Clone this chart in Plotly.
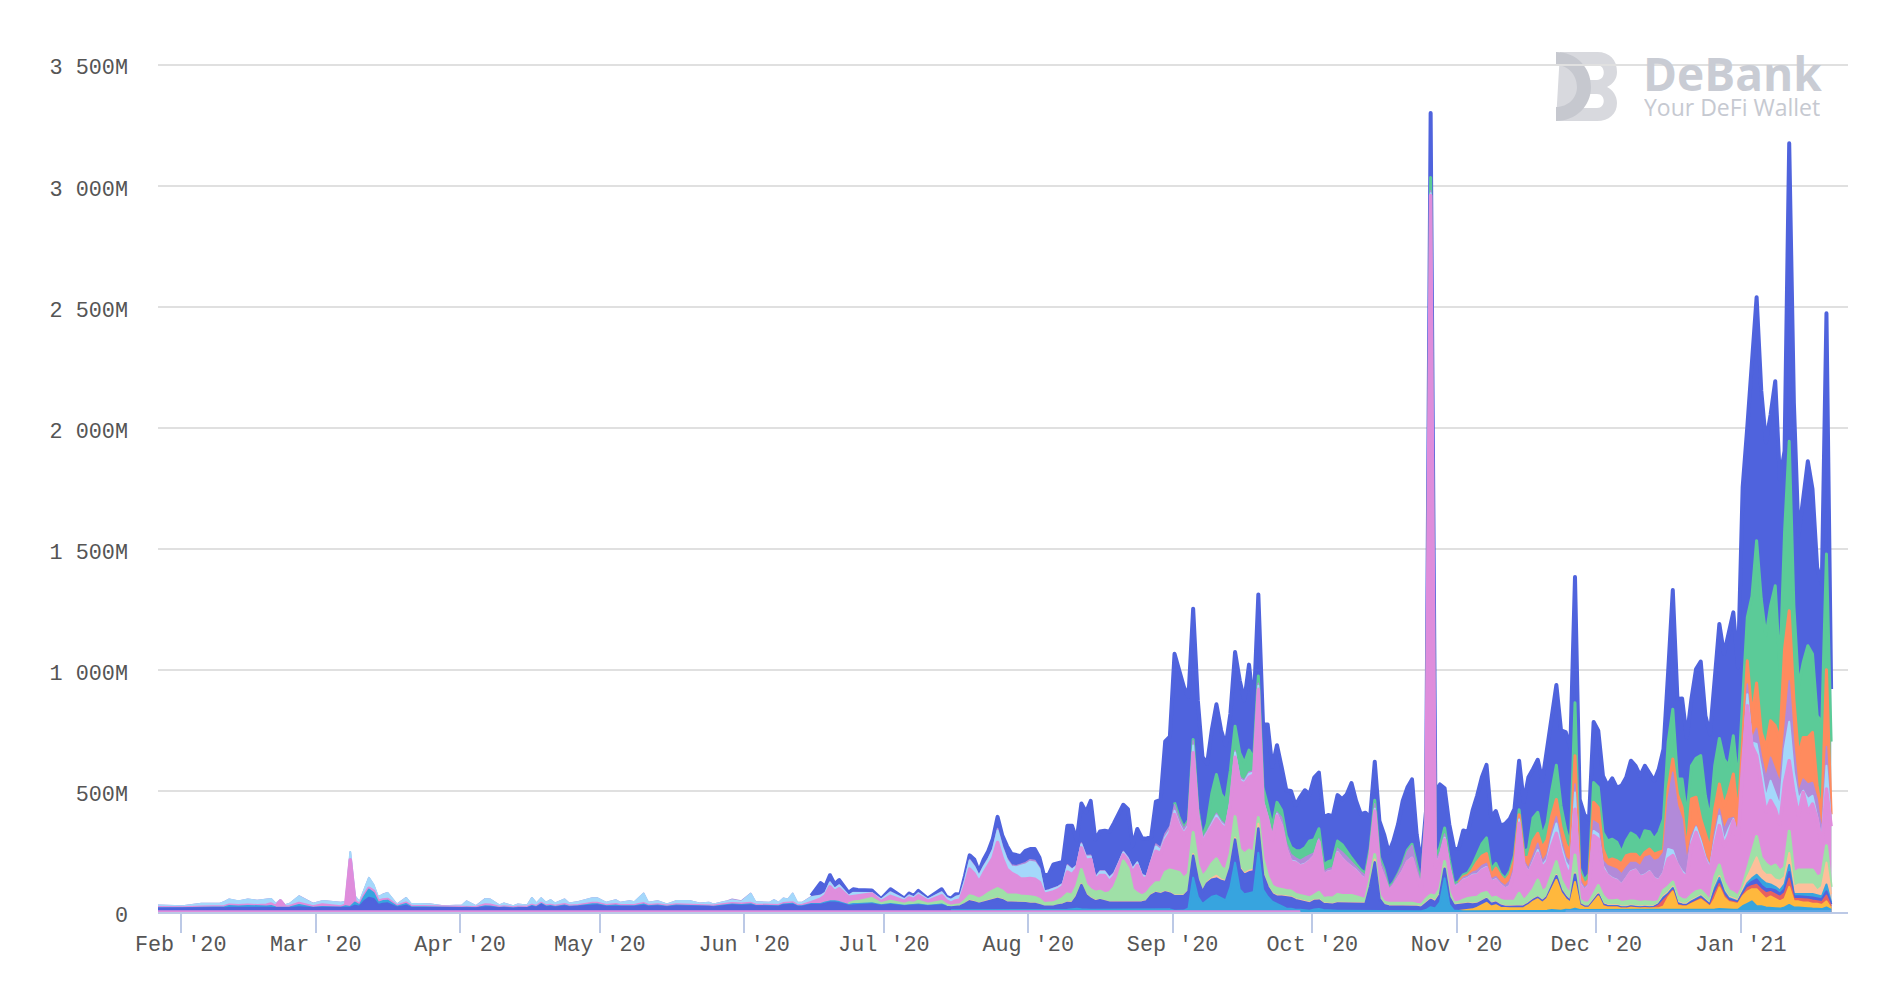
# Stacked daily area chart with the DeBank watermark.
import pandas as pd
import plotly.graph_objects as go

# sparse dates up to mid July, where almost nothing happens, then every day
early_dates = [
    "2020-01-26", "2020-02-01", "2020-02-05", "2020-02-09", "2020-02-10", "2020-02-11", "2020-02-13",
    "2020-02-15", "2020-02-17", "2020-02-19", "2020-02-20", "2020-02-21", "2020-02-22", "2020-02-23",
    "2020-02-24", "2020-02-26", "2020-02-28", "2020-02-29",
    "2020-03-02", "2020-03-04", "2020-03-06", "2020-03-07", "2020-03-08", "2020-03-09", "2020-03-10",
    "2020-03-11", "2020-03-12", "2020-03-13", "2020-03-14", "2020-03-15", "2020-03-16", "2020-03-18",
    "2020-03-20", "2020-03-21", "2020-03-25", "2020-03-28",
    "2020-04-01", "2020-04-02", "2020-04-04", "2020-04-06", "2020-04-07", "2020-04-09", "2020-04-10",
    "2020-04-12", "2020-04-13", "2020-04-15", "2020-04-16", "2020-04-17", "2020-04-18", "2020-04-19",
    "2020-04-20", "2020-04-21", "2020-04-23", "2020-04-24", "2020-04-26", "2020-04-29", "2020-04-30",
    "2020-05-02", "2020-05-04", "2020-05-05", "2020-05-07", "2020-05-08", "2020-05-10", "2020-05-11",
    "2020-05-13", "2020-05-15", "2020-05-17", "2020-05-20", "2020-05-22", "2020-05-24", "2020-05-25",
    "2020-05-28", "2020-05-29", "2020-05-31",
    "2020-06-02", "2020-06-03", "2020-06-06", "2020-06-07", "2020-06-08", "2020-06-09", "2020-06-10",
    "2020-06-11", "2020-06-12", "2020-06-13", "2020-06-15", "2020-06-17", "2020-06-18", "2020-06-19",
    "2020-06-20", "2020-06-21", "2020-06-23", "2020-06-24", "2020-06-25", "2020-06-28", "2020-06-30",
    "2020-07-02", "2020-07-05", "2020-07-06", "2020-07-07", "2020-07-08", "2020-07-10", "2020-07-13",
    "2020-07-14",
]
daily_dates = [d.strftime("%Y-%m-%d") for d in pd.date_range("2020-07-15", "2021-01-20")]
dates = [d + "T10:00" for d in early_dates + daily_dates]

# layers, bottom of the stack first; None where a layer has no data
floor_pink = [3] * 179 + [None] * 114
floor_blue = [None] * 235 + [4] * 58
cyan = [None] * 103 + [
    4, 4, 4, 5, 6, 6, 5, 5, 6, 6, 6, 6, 6, 5, 5, 5, 5,
    5, 5, 5, 4, 4, 4, 4, 5, 6, 8, 10, 8, 6, 6, 6, 6, 6, 5, 5, 5, 5, 5, 6, 6, 6, 6, 5, 5, 5, 8, 8,
    2, 2, 3, 12, 139, 60, 30, 45, 60, 65, 55, 45, 100, 201, 90, 70, 75, 80, 242, 90, 60, 40, 30, 20, 12, 10, 6, 6, 6, 5,
    10, 12, 8, 6, 5, 5, 5, 5, 5, 5, 3, 3, 5, 5, 4, 3, 3, 3, 3, 3, 3, 3, 3, 3, 8, 20, 15, 40, 139, 30, 6,
    3, 3, 3, 3, 3, 3, 3, 3, 3, 3, 3, 3, 3, 3, 3, 3, 3, 3, 3, 5, 8, 8, 5, 5, 4, 10, 4, 4, 4, 5,
    5, 5, 5, 5, 5, 4, 4, 4, 4, 4, 4, 4, 4, 4, 4, 5, 5, 5, 5, 5, 5, 5, 5, 5, 4, 6, 8, 6, 5, 5, 5,
    20, 30, 40, 20, 20, 15, 15, 12, 10, 15, 25, 15, 15, 12, 12, 10, 10, 8, 15, 5,
]
yellow = [None] * 212 + [
    1, 3, 5, 8, 15, 25, 35, 20, 25, 15, 12, 12, 12, 12, 14, 25, 40, 50, 35, 50, 85, 125, 75, 45, 30, 110, 20, 10, 10, 30,
    55, 15, 10, 10, 10, 6, 6, 10, 8, 6, 8, 6, 8, 8, 15, 50, 75, 18, 14, 14, 24, 32, 42, 28, 14, 45, 90, 50, 32, 28, 24,
    40, 50, 50, 70, 50, 35, 45, 38, 30, 35, 75, 25, 25, 23, 23, 20, 20, 17, 25, 5,
]
red = [None] * 242 + [
    4, 3, 2, 2, 2, 2, 2, 2, 2, 2, 2, 2, 2, 12, 25, 8, 6, 4, 3, 2, 4, 5, 5, 4, 3, 20, 15, 10, 6, 5, 4,
    6, 15, 15, 20, 20, 25, 20, 20, 20, 25, 35, 12, 12, 14, 14, 15, 13, 13, 25, 10,
]
indigo = [
    10, 10, 12, 12, 12, 14, 13, 15, 14, 14, 15, 13, 13, 12, 13, 16, 14, 12,
    14, 14, 12, 13, 14, 22, 18, 40, 55, 50, 25, 30, 32, 15, 22, 14, 13, 12,
    12, 12, 11, 16, 16, 12, 13, 10, 12, 12, 18, 14, 26, 16, 18, 15, 20, 16, 18, 24, 24,
    18, 20, 18, 18, 18, 22, 18, 20, 16, 20, 20, 18, 18, 16, 22, 24, 22,
    24, 20, 18, 20, 18, 24, 24, 26, 18, 18, 26, 26, 30, 35, 35, 32, 22, 25, 25, 28, 22,
    26, 20, 22, 22, 24, 20, 24, 18,
    12, 14, 16, 25, 35, 30, 25, 30, 35, 40, 45, 40, 30, 30, 30, 28, 28,
    25, 25, 20, 15, 15, 15, 20, 22, 28, 25, 50, 100, 60, 45, 35, 40, 35, 30, 30, 30, 30, 30, 30, 30, 30, 35, 60, 70, 65, 70, 65,
    60, 60, 60, 70, 90, 70, 50, 70, 70, 70, 70, 75, 80, 95, 85, 80, 85, 85, 100, 60, 40, 30, 30, 40, 45, 45, 40, 35, 35, 30,
    35, 35, 25, 25, 25, 30, 30, 30, 30, 30, 30, 30, 100, 200, 50, 25, 20, 20, 20, 20, 20, 20, 18, 15, 25, 30, 25, 30, 40, 30, 20,
    25, 25, 25, 20, 15, 15, 15, 10, 10, 8, 6, 6, 6, 6, 6, 6, 6, 6, 6, 6, 10, 15, 10, 8, 6, 30, 5, 4, 4, 8,
    3, 3, 2, 2, 2, 2, 2, 2, 2, 2, 2, 2, 2, 3, 8, 5, 5, 3, 3, 3, 4, 5, 5, 4, 3, 12, 12, 8, 6, 5, 4,
    6, 10, 15, 20, 15, 15, 10, 15, 10, 15, 25, 8, 8, 8, 8, 10, 10, 10, 15, 8,
]
# the same colour band shows up twice, before mid July and from December on
sky_early = [
    3, 2, 3, 3, 5, 8, 7, 7, 6, 6, 7, 3, 2, 2, 3, 10, 6, 3,
    4, 4, 3, 8, 4, 14, 6, 20, 35, 25, 10, 12, 12, 4, 8, 4, 3, 2,
    2, 3, 2, 5, 4, 2, 3, 2, 3, 2, 4, 3, 4, 4, 4, 3, 4, 3, 3, 5, 5,
    3, 4, 3, 3, 3, 6, 3, 4, 3, 4, 3, 3, 3, 3, 4, 4, 4,
    5, 3, 3, 3, 3, 4, 4, 5, 3, 3, 4, 4, 6, 6, 6, 6, 4, 5, 5, 5, 3,
    4, 3, 3, 3, 4, 3, 4, 3,
] + [None] * 190
sky_late = [None] * 242 + [
    3, 2, 2, 2, 2, 2, 2, 2, 2, 2, 2, 2, 2, 2, 5, 4, 5, 3, 2, 2, 3, 4, 4, 3, 3, 10, 12, 8, 5, 4, 3,
    6, 10, 15, 20, 25, 25, 20, 15, 15, 20, 30, 10, 10, 13, 13, 15, 12, 12, 30, 7,
]
peach = [None] * 103 + [
    1, 1, 1, 2, 3, 3, 2, 3, 3, 3, 3, 3, 2, 2, 2, 2, 2,
    2, 2, 2, 1, 1, 1, 1, 2, 3, 3, 5, 4, 4, 3, 3, 2, 2, 2, 3, 3, 3, 3, 3, 3, 3, 3, 3, 3, 3, 3, 3,
    3, 3, 3, 3, 8, 4, 3, 4, 6, 12, 6, 4, 5, 8, 6, 6, 8, 8, 20, 6, 5, 4, 4, 4, 4, 4, 4, 4, 4, 4,
    4, 4, 3, 3, 3, 3, 3, 3, 3, 3, 3, 3, 5, 12, 3, 3, 3, 3, 3, 3, 3, 3, 3, 3, 5, 5, 5, 5, 5, 4, 3,
    3, 3, 3, 3, 3, 3, 3, 3, 3, 3, 3, 3, 3, 3, 3, 3, 3, 3, 3, 3, 4, 5, 4, 4, 3, 6, 3, 3, 3, 3,
    3, 3, 3, 3, 3, 3, 3, 3, 3, 3, 3, 3, 3, 3, 5, 5, 5, 5, 4, 4, 4, 4, 4, 4, 3, 7, 8, 6, 5, 5, 5,
    8, 25, 45, 72, 40, 35, 40, 30, 40, 30, 50, 30, 40, 40, 40, 40, 20, 40, 90, 35,
]
light_green = [None] * 90 + [
    4, 8, 10, 20, 6, 12, 6, 10, 8, 14, 6, 12, 6,
    4, 6, 6, 12, 20, 20, 18, 22, 30, 35, 40, 35, 30, 30, 30, 28, 28,
    28, 25, 22, 12, 12, 15, 18, 25, 35, 30, 40, 60, 40, 35, 35, 35, 30, 40, 60, 105, 170, 140, 50, 35, 25, 30, 30, 40, 45, 80, 95,
    100, 95, 70, 70, 88, 60, 60, 45, 60, 70, 50, 45, 55, 87, 75, 80, 85, 70, 25, 60, 40, 30, 30, 25, 25, 25, 20, 20, 20, 20,
    20, 30, 20, 25, 25, 35, 30, 30, 30, 25, 20, 15, 25, 20, 12, 10, 10, 10, 10, 10, 10, 10, 8, 8, 15, 15, 20, 20, 25, 15, 8,
    8, 15, 20, 25, 25, 30, 25, 20, 20, 20, 20, 20, 20, 53, 20, 30, 40, 70, 35, 35, 45, 55, 40, 30, 25, 75, 15, 12, 12, 25,
    32, 32, 18, 18, 21, 16, 19, 19, 19, 16, 17, 16, 14, 8, 23, 23, 19, 22, 17, 15, 21, 25, 20, 17, 10, 40, 45, 32, 26, 23, 15,
    14, 30, 60, 86, 50, 45, 30, 60, 40, 40, 90, 55, 60, 60, 60, 60, 55, 50, 70, 30,
]
pink = [
    2, 2, 2, 2, 2, 3, 3, 3, 3, 5, 8, 4, 28, 4, 3, 6, 4, 3,
    8, 3, 3, 4, 195, 4, 3, 4, 5, 8, 6, 5, 5, 2, 3, 2, 2, 2,
    2, 2, 2, 5, 5, 2, 2, 2, 2, 2, 2, 2, 2, 2, 2, 2, 3, 2, 2, 3, 3,
    2, 3, 2, 2, 2, 3, 2, 2, 2, 2, 2, 2, 2, 2, 3, 3, 3,
    3, 2, 2, 2, 2, 3, 3, 3, 2, 2, 6, 20, 28, 60, 40, 55, 28, 22, 22, 18, 8,
    20, 12, 20, 16, 22, 12, 24, 16,
    12, 18, 20, 60, 110, 95, 70, 95, 110, 135, 190, 135, 105, 90, 80, 70, 70,
    75, 75, 70, 38, 42, 45, 45, 48, 90, 85, 70, 90, 100, 125, 50, 65, 75, 45, 45, 45, 25, 30, 70, 115, 75, 60, 100, 130, 120, 130, 150,
    235, 190, 180, 190, 330, 200, 140, 150, 150, 165, 175, 170, 200, 245, 280, 290, 300, 320, 530, 230, 235, 190, 300, 260, 170, 120, 130, 120, 130, 150,
    160, 210, 95, 105, 110, 170, 150, 130, 115, 105, 90, 80, 100, 180, 120, 100, 50, 70, 100, 130, 170, 185, 120, 70, 330, 2890, 120, 130, 90, 100, 60,
    70, 80, 80, 90, 90, 95, 100, 65, 70, 60, 50, 60, 120, 290, 150, 90, 110, 110, 100, 105, 120, 117, 110, 85, 75, 190, 60, 50, 70, 240,
    192, 110, 104, 90, 80, 70, 94, 118, 127, 104, 108, 125, 97, 85, 68, 115, 109, 127, 105, 94, 205, 245, 185, 143, 127, 130, 163, 150, 226, 298, 224,
    500, 678, 443, 334, 311, 213, 276, 231, 194, 351, 291, 335, 224, 320, 238, 272, 240, 120, 234, 250,
]
light_blue = [
    9, 7, 14, 14, 20, 24, 18, 24, 21, 22, 21, 11, 3, 7, 12, 30, 17, 13,
    16, 18, 17, 14, 32, 21, 11, 25, 43, 26, 17, 22, 27, 7, 22, 11, 11, 5,
    8, 24, 6, 25, 24, 8, 14, 7, 11, 8, 31, 13, 22, 13, 22, 12, 22, 11, 15, 22, 22,
    12, 19, 12, 19, 14, 42, 12, 16, 7, 16, 17, 9, 12, 7, 12, 15, 10,
    40, 13, 12, 21, 12, 22, 18, 39, 12, 12, 22, 14, 12, 18, 12, 14, 6, 16, 14, 4, 8,
    16, 8, 10, 8, 10, 7, 14, 12,
    14, 16, 18, 25, 35, 30, 25, 28, 30, 35, 50, 45, 40, 28, 35, 55, 60,
    70, 70, 55, 12, 12, 12, 12, 10, 25, 20, 12, 15, 15, 12, 8, 15, 15, 15, 12, 10, 10, 10, 15, 12, 10, 8, 8, 20, 15, 15, 15,
    15, 12, 10, 12, 30, 15, 10, 10, 12, 15, 10, 10, 15, 20, 10, 8, 15, 10, 15, 8, 8, 8, 8, 8, 6, 6, 6, 5, 5, 5,
    5, 5, 4, 4, 4, 5, 5, 5, 5, 5, 5, 5, 5, 10, 8, 5, 3, 3, 3, 4, 4, 4, 4, 4, 5, 10, 8, 8, 8, 8, 5,
    4, 5, 5, 5, 5, 5, 5, 5, 5, 4, 4, 4, 5, 15, 5, 8, 12, 14, 10, 15, 30, 41, 30, 25, 30, 69, 10, 5, 5, 20,
    21, 14, 5, 5, 5, 5, 5, 5, 5, 5, 5, 5, 5, 5, 7, 41, 21, 8, 12, 6, 20, 21, 20, 14, 13, 27, 41, 21, 28, 7, 14,
    20, 48, 14, 48, 56, 60, 82, 69, 76, 138, 161, 83, 69, 7, 55, 34, 10, 15, 96, 10,
]
purple = [
    1, 1, 1, 1, 1, 1, 1, 1, 1, 1, 1, 1, 1, 1, 1, 1, 1, 1,
    1, 1, 1, 1, 1, 1, 1, 1, 1, 1, 1, 1, 1, 1, 1, 1, 1, 1,
    1, 1, 1, 1, 1, 1, 1, 1, 1, 1, 1, 1, 1, 1, 1, 1, 1, 1, 1, 1, 1,
    1, 1, 1, 1, 1, 1, 1, 1, 1, 1, 1, 1, 1, 1, 2, 4, 4,
    2, 1, 1, 1, 1, 1, 1, 1, 1, 1, 2, 2, 2, 2, 2, 2, 2, 2, 2, 2, 2,
    2, 2, 2, 2, 2, 2, 2, 2,
    1, 2, 1, 3, 5, 4, 3, 4, 4, 5, 8, 8, 6, 6, 6, 6, 8,
    8, 8, 6, 2, 2, 2, 3, 3, 5, 3, 3, 5, 5, 5, 4, 4, 4, 4, 4, 4, 4, 4, 4, 3, 3, 3, 3, 10, 10, 15, 15,
    25, 20, 15, 15, 20, 12, 8, 8, 8, 8, 8, 8, 8, 8, 8, 8, 8, 8, 10, 8, 8, 8, 8, 30, 20, 25, 15, 20, 25, 20,
    10, 8, 10, 10, 12, 15, 25, 25, 20, 15, 15, 15, 15, 20, 20, 25, 8, 10, 15, 25, 40, 50, 30, 10, 10, 10, 15, 15, 15, 15, 8,
    5, 8, 8, 10, 15, 15, 15, 10, 10, 10, 10, 20, 20, 5, 10, 15, 20, 28, 18, 20, 25, 28, 25, 20, 30, 35, 15, 8, 5, 42,
    41, 21, 36, 43, 43, 43, 43, 36, 29, 43, 71, 64, 71, 85, 82, 207, 323, 240, 215, 63, 21, 6, 10, 8, 8, 28, 27, 48, 41, 7, 20,
    20, 42, 13, 65, 55, 84, 97, 97, 96, 69, 169, 110, 27, 48, 62, 55, 73, 40, 80, 5,
]
orange = [None] * 212 + [
    2, 3, 3, 10, 35, 40, 40, 15, 35, 25, 20, 25, 25, 15, 15, 45, 60, 41, 55, 60, 70, 71, 50, 55, 40, 117, 25, 15, 15, 76,
    69, 48, 21, 35, 35, 41, 49, 34, 34, 28, 20, 27, 27, 27, 7, 41, 55, 48, 48, 34, 152, 118, 80, 88, 68, 96, 104, 96, 110, 179, 76,
    60, 96, 97, 187, 96, 124, 151, 179, 180, 344, 290, 193, 152, 172, 192, 207, 55, 69, 317, 35,
]
green = [None] * 151 + [
    10, 5, 5, 5, 5, 5, 5, 30, 120, 160, 110, 100, 120, 100, 100, 70, 90, 50, 30, 50, 40, 40, 40, 30, 30, 30, 30, 40, 40, 60,
    55, 40, 30, 30, 30, 30, 30, 25, 15, 10, 8, 8, 8, 15, 10, 5, 3, 3, 3, 5, 5, 5, 5, 3, 3, 55, 15, 20, 25, 15, 5,
    5, 8, 10, 20, 35, 50, 65, 25, 20, 10, 10, 15, 20, 20, 25, 35, 95, 87, 50, 70, 105, 141, 90, 60, 30, 218, 20, 15, 25, 82,
    83, 69, 82, 82, 76, 48, 61, 87, 76, 69, 90, 72, 62, 83, 131, 193, 206, 62, 117, 152, 137, 161, 262, 158, 124, 179, 188, 193, 110, 158, 137,
    180, 179, 493, 588, 551, 461, 475, 578, 289, 482, 700, 385, 289, 310, 379, 324, 289, 385, 478, 300,
]
blue = [None] * 84 + [
    4, 50, 24, 28, 17, 20, 10, 13, 10, 9, 1,
    11, 1, 6, 4, 8, 2, 11, 3,
    4, 9, 3, 14, 17, 26, 15, 26, 30, 41, 48, 42, 51, 46, 46, 34, 49,
    44, 47, 41, 62, 65, 100, 97, 89, 161, 179, 104, 163, 179, 225, 155, 163, 166, 188, 205, 196, 193, 200, 91, 136, 150, 155, 99, 175, 197, 381, 371,
    614, 602, 581, 509, 540, 446, 332, 248, 262, 290, 264, 229, 233, 307, 300, 260, 353, 213, 337, 263, 336, 246, 236, 179, 188, 232, 187, 222, 238, 192,
    256, 232, 195, 193, 182, 190, 188, 233, 310, 261, 230, 251, 127, 159, 149, 145, 145, 171, 205, 259, 259, 268, 130, 81, 15, 266, 273, 259, 164, 145, 151,
    135, 184, 168, 225, 240, 276, 302, 216, 216, 199, 226, 217, 192, 203, 203, 297, 202, 217, 228, 298, 303, 332, 311, 402, 401, 520, 284, 272, 225, 250,
    234, 234, 228, 251, 225, 276, 262, 299, 289, 275, 268, 242, 241, 262, 289, 289, 492, 331, 333, 323, 276, 369, 389, 331, 351, 358, 473, 434, 551, 510, 476,
    870, 787, 950, 1006, 861, 800, 789, 845, 784, 336, 1231, 839, 619, 673, 762, 681, 613, 571, 995, 217,
]

# (values, colour, stroke width)
layers = [
    (floor_pink, "#DF8DDC", 2), (floor_blue, "#5AA5E4", 2),
    (cyan, "#37A4DF", 2), (yellow, "#FFB83D", 2), (red, "#E8615F", 1.5), (indigo, "#4F63DD", 2.5),
    (sky_early, "#37A4DF", 2), (sky_late, "#37A4DF", 2), (peach, "#FDBF9B", 2), (light_green, "#9FE0A7", 3),
    (pink, "#DF8DDC", 3.5), (light_blue, "#A4D8FB", 2), (purple, "#B28AD9", 1.5), (orange, "#FF8B5E", 3),
    (green, "#5BCB98", 3), (blue, "#4F63DD", 4),
]
for values, _, _ in layers:
    assert len(values) == len(dates), len(values)

x_ticks = ["2020-02-01", "2020-03-01", "2020-04-01", "2020-05-01", "2020-06-01", "2020-07-01",
           "2020-08-01", "2020-09-01", "2020-10-01", "2020-11-01", "2020-12-01", "2021-01-01"]
x_labels = ["Feb '20", "Mar '20", "Apr '20", "May '20", "Jun '20", "Jul '20",
            "Aug '20", "Sep '20", "Oct '20", "Nov '20", "Dec '20", "Jan '21"]
y_ticks = [0, 500, 1000, 1500, 2000, 2500, 3000, 3500]
y_labels = ["0", "500M", "1 000M", "1 500M", "2 000M", "2 500M", "3 000M", "3 500M"]

# running top of each layer, so the lower layers can be painted over the upper ones
running = [0] * len(dates)
tops = []
for values, color, width in layers:
    running = [r + (v or 0) for r, v in zip(running, values)]
    tops.append(([r if v is not None else None for r, v in zip(running, values)], color, width))

fig = go.Figure()
for top, color, width in reversed(tops):
    fig.add_trace(go.Scatter(
        x=dates, y=top, mode="lines", fill="tozeroy", fillcolor=color,
        line=dict(color=color, width=width), showlegend=False, hoverinfo="skip",
    ))

# plot box in page pixels, used to place the watermark
LEFT, RIGHT, TOP, BOTTOM = 158, 1848, 60, 912


def px(x, y):
    return f"{(x - LEFT) / (RIGHT - LEFT):.5f},{(BOTTOM - y) / (BOTTOM - TOP):.5f}"


def logo_shape(points, color):
    return dict(type="path", xref="paper", yref="paper", layer="below", line_width=0,
                fillcolor=color, path=points)


b_outer = (f"M{px(1560, 52)} L{px(1597, 52)} C{px(1610, 52)} {px(1617, 60)} {px(1617, 72)} "
           f"C{px(1617, 79)} {px(1613, 84)} {px(1607, 87)} C{px(1613, 90)} {px(1617, 96)} {px(1617, 103)} "
           f"C{px(1617, 114)} {px(1609, 121)} {px(1597, 121)} L{px(1556, 121)} Z")
b_hole_top = f"M{px(1575, 65)} L{px(1597, 65)} C{px(1606, 65)} {px(1606, 80)} {px(1597, 80)} L{px(1585, 80)} Z"
b_hole_low = f"M{px(1585, 94)} L{px(1597, 94)} C{px(1606, 94)} {px(1606, 108)} {px(1597, 108)} L{px(1578, 108)} Z"
d_shape = (f"M{px(1556, 52)} C{px(1576, 52)} {px(1591, 67)} {px(1591, 87)} "
           f"C{px(1591, 106)} {px(1576, 121)} {px(1556, 121)} L{px(1556, 107)} "
           f"C{px(1568, 107)} {px(1577, 98)} {px(1577, 87)} C{px(1577, 75)} {px(1568, 65)} {px(1556, 65)} Z")

fig.update_layout(
    width=1902, height=992, autosize=False,
    margin=dict(l=LEFT, r=1902 - RIGHT, t=TOP, b=992 - BOTTOM, autoexpand=False),
    paper_bgcolor="white", plot_bgcolor="white",
    font=dict(family="Liberation Mono", size=21.8, color="#555555"),
    shapes=[
        logo_shape(b_outer, "#D8D9DE"),
        logo_shape(b_hole_top, "white"),
        logo_shape(b_hole_low, "white"),
        logo_shape(d_shape, "#C6C8CF"),
    ],
    annotations=[
        dict(text="<b>DeBank</b>", xref="paper", yref="paper", showarrow=False,
             xanchor="center", yanchor="middle", height=42,
             x=(1732 - LEFT) / (RIGHT - LEFT), y=(BOTTOM - 73) / (BOTTOM - TOP),
             font=dict(family="Open Sans", size=46, color="#C9CCD4")),
        dict(text="Your DeFi Wallet", xref="paper", yref="paper", showarrow=False,
             xanchor="center", yanchor="middle", height=24,
             x=(1732 - LEFT) / (RIGHT - LEFT), y=(BOTTOM - 107) / (BOTTOM - TOP),
             font=dict(family="Open Sans", size=23, color="#C6C9D1")),
    ],
    xaxis=dict(
        type="date", range=["2020-01-27 03:00", "2021-01-24 01:00"],
        tickmode="array", tickvals=x_ticks, ticktext=x_labels, ticks="outside", ticklen=19,
        tickwidth=2, tickcolor="#BCC9E6", showgrid=False, showline=True, linecolor="#BCC9E6",
        linewidth=2, zeroline=False, ticklabelstandoff=-8,
    ),
    yaxis=dict(
        range=[0, 3520], tickmode="array", tickvals=y_ticks, ticktext=y_labels, ticks="",
        gridcolor="#E0E0E0", gridwidth=2, zeroline=False, showline=False,
        ticklabelstandoff=29, ticklabelshift=2,
    ),
)

fig.write_html(
    "out.html",
    config=dict(displayModeBar=False),
    post_script=("document.body.style.margin='0';"
                 "var s=document.createElement('style');"
                 "s.textContent='path.js-line{stroke-linejoin:round}';"
                 "document.head.appendChild(s);"),
)
